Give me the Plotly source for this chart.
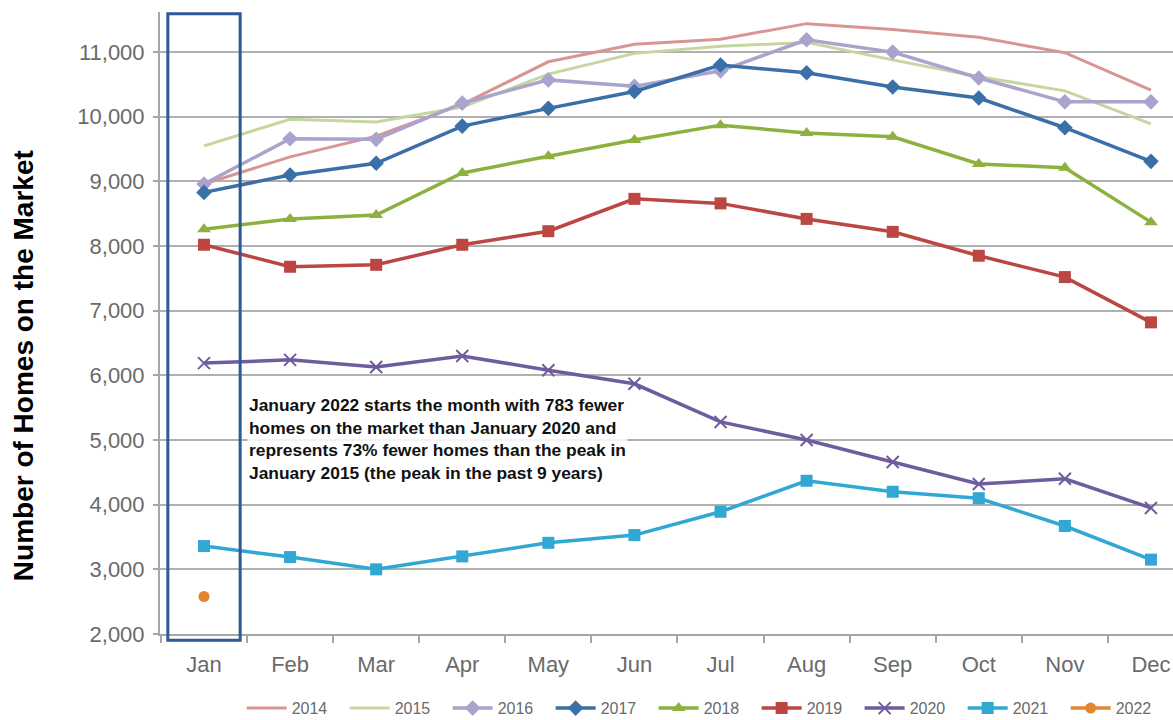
import plotly.graph_objects as go

months = ["Jan", "Feb", "Mar", "Apr", "May", "Jun",
          "Jul", "Aug", "Sep", "Oct", "Nov", "Dec"]

homes_2014 = [8960, 9380, 9700, 10190, 10850, 11120, 11200, 11440, 11350, 11230, 10990, 10410]
homes_2015 = [9550, 9960, 9920, 10150, 10660, 10980, 11090, 11150, 10880, 10620, 10400, 9890]
homes_2016 = [8960, 9660, 9650, 10210, 10570, 10470, 10710, 11190, 11000, 10600, 10230, 10230]
homes_2017 = [8830, 9100, 9280, 9855, 10130, 10390, 10800, 10680, 10460, 10290, 9830, 9310]
homes_2018 = [8260, 8420, 8480, 9130, 9390, 9640, 9870, 9750, 9690, 9270, 9210, 8370]
homes_2019 = [8020, 7680, 7710, 8020, 8230, 8730, 8660, 8420, 8220, 7850, 7520, 6820]
homes_2020 = [6190, 6240, 6130, 6300, 6080, 5870, 5280, 5000, 4660, 4320, 4400, 3950]
homes_2021 = [3360, 3190, 3000, 3200, 3410, 3530, 3890, 4370, 4200, 4100, 3670, 3150]
homes_2022 = [2580]

y_ticks = [2000, 3000, 4000, 5000, 6000, 7000, 8000, 9000, 10000, 11000]

series = [
    ("2014", homes_2014, "#d99592", None),
    ("2015", homes_2015, "#c4d79f", None),
    ("2016", homes_2016, "#a9a3cd", "diamond"),
    ("2017", homes_2017, "#3b6fa8", "diamond"),
    ("2018", homes_2018, "#8db13f", "triangle-up"),
    ("2019", homes_2019, "#bb4642", "square"),
    ("2020", homes_2020, "#6e5c9e", "x-thin"),
    ("2021", homes_2021, "#30a8d3", "square"),
    ("2022", homes_2022, "#e5852f", "circle"),
]

marker_sizes = {"diamond": 12, "triangle-up": 12, "square": 12,
                "x-thin": 12, "circle": 11}

fig = go.Figure()
for name, vals, color, symbol in series:
    mode = "lines+markers" if symbol else "lines"
    marker = dict(color=color, size=marker_sizes.get(symbol, 10),
                  symbol=symbol or "circle")
    if symbol == "x-thin":
        marker.update(line=dict(color=color, width=2))
    fig.add_trace(go.Scatter(
        x=months[:len(vals)], y=vals, name=name, mode=mode,
        line=dict(color=color, width=3.5 if symbol else 3),
        marker=marker,
    ))

# Outline highlighting the January column
fig.add_shape(type="rect", xref="x", yref="paper",
              x0=-0.42, x1=0.42, y0=-0.01, y1=0.997,
              line=dict(color="#2d5a96", width=3), fillcolor="rgba(0,0,0,0)")

fig.add_annotation(
    xref="paper", yref="paper", x=0.086, y=0.3875, xanchor="left", yanchor="top",
    align="left", showarrow=False,
    text=("January 2022 starts the month with 783 fewer<br>"
          "homes on the market than January 2020 and<br>"
          "represents 73% fewer homes than the peak in<br>"
          "January 2015 (the peak in the past 9 years)"),
    font=dict(family="Liberation Sans, Arial, sans-serif",
              size=17.4, color="#111111", weight="bold"),
    bgcolor="rgba(255,255,255,0.85)",
)

# Y-axis title, placed as rotated text
fig.add_annotation(
    xref="paper", yref="paper", x=-0.134, y=0.431, xanchor="center", yanchor="middle",
    textangle=-90, showarrow=False,
    text="Number of Homes on the Market",
    font=dict(family="Liberation Sans, Arial, sans-serif",
              size=28, color="#000000", weight="bold"),
)

tick_font = dict(family="Liberation Sans, Arial, sans-serif",
                 size=22, color="#6a6a6a")

fig.update_layout(
    width=1173, height=720,
    margin=dict(l=160, r=0, t=12, b=86),
    paper_bgcolor="white", plot_bgcolor="white",
    showlegend=True,
    legend=dict(orientation="h", xref="container", yref="container",
                x=0.206, y=0.04, xanchor="left", yanchor="top",
                font=dict(family="Liberation Sans, Arial, sans-serif",
                          size=16, color="#6a6a6a"),
                entrywidth=48, itemwidth=40, tracegroupgap=0),
    xaxis=dict(
        type="category", categoryorder="array", categoryarray=months,
        range=[-0.511, 11.256], automargin=False,
        showgrid=False, showline=True, linecolor="#a6a6a6", linewidth=2,
        ticks="outside", tickson="boundaries", ticklen=7, tickcolor="#a6a6a6",
        tickwidth=2, ticklabelstandoff=10, tickfont=tick_font,
    ),
    yaxis=dict(
        range=[2000, 11620], tickvals=y_ticks, tickformat=",d", automargin=False,
        showgrid=True, gridcolor="#b0b0b0", gridwidth=2,
        showline=True, linecolor="#a6a6a6", linewidth=2,
        ticks="outside", ticklen=5, tickcolor="#a6a6a6", tickwidth=2,
        ticklabelstandoff=4,
        tickfont=tick_font, zeroline=False,
    ),
)

fig.write_html("out.html")
